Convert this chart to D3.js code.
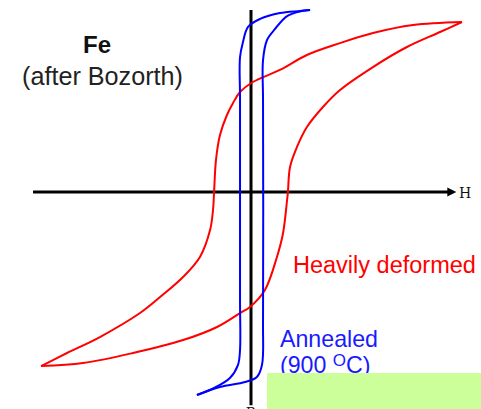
<!DOCTYPE html>
<html>
<head>
<meta charset="utf-8">
<script src="https://cdn.jsdelivr.net/npm/d3@7"></script>
<style>
  html, body { margin: 0; padding: 0; background: #fff; }
  svg { display: block; }
</style>
</head>
<body>
<svg id="chart" width="481" height="409"></svg>
<script>
// Heavily deformed Fe: descending branch (H, B)
const deformedDescH = [10, 7.68, 5.78, 4.22, 2.65, 1.37, 0.09, -0.52, -0.85, -1.14, -1.47, -1.66, -1.75, -1.80, -1.94, -2.42, -3.22, -4.31, -5.26, -7.16, -8.72, -9.95];
const deformedDescB = [10, 9.82, 9.35, 8.76, 8.06, 7.18, 6.47, 5.88, 5.24, 4.53, 3.35, 1.88, 0, -1.06, -2.24, -3.82, -5.0, -6.18, -7.12, -8.53, -9.47, -10.24];
// Heavily deformed Fe: ascending branch
const deformedAscH = [-9.95, -7.96, -5.59, -3.22, -1.61, -0.52, -0.05, 0.66, 1.23, 1.52, 1.71, 1.75, 1.85, 2.18, 2.65, 3.41, 4.22, 5.78, 7.39, 8.96, 10];
const deformedAscB = [-10.24, -10.06, -9.47, -8.71, -7.94, -7.12, -6.76, -5.76, -3.82, -2.41, -0.47, 0, 1.47, 2.65, 3.82, 5.0, 6.0, 7.35, 8.53, 9.41, 10];
// Annealed Fe (900 °C): descending branch
const annealedDescH = [2.80, 2.32, 1.37, 0.43, -0.14, -0.38, -0.52, -0.52, -0.52, -0.52, -0.62, -1.0, -1.75, -2.56];
const annealedDescB = [10.71, 10.65, 10.53, 10.18, 9.71, 8.82, 7.94, 5.41, -6.35, -9.29, -10.18, -10.94, -11.53, -11.94];
// Annealed Fe (900 °C): ascending branch
const annealedAscH = [-2.56, -1.47, -0.28, 0.28, 0.52, 0.57, 0.57, 0.57, 0.76, 1.14, 1.71, 2.42, 2.80];
const annealedAscB = [-11.94, -11.47, -11.18, -10.88, -10.18, -7.53, 5.41, 7.76, 8.94, 9.59, 10.35, 10.65, 10.71];

const titleText = "Fe";
const subtitleText = "(after Bozorth)";
const xAxisLabel = "H";
const yAxisLabel = "B";
const deformedLabel = "Heavily deformed";
const annealedLabel1 = "Annealed";

const svg = d3.select("#chart");

const x = d3.scaleLinear().domain([-10, 10]).range([40, 462]);
const y = d3.scaleLinear().domain([-10, 10]).range([362, 22]);

const zip = (hs, bs) => hs.map((h, i) => [h, bs[i]]);

const line = d3.line()
  .x(d => x(d[0]))
  .y(d => y(d[1]))
  .curve(d3.curveCatmullRom.alpha(0.5));

// Axes
const xAxisStart = -10.33, xAxisEnd = 9.4;
svg.append("line")
  .attr("x1", x(xAxisStart)).attr("x2", x(xAxisEnd))
  .attr("y1", y(0)).attr("y2", y(0))
  .attr("stroke", "#000").attr("stroke-width", 3);
svg.append("path")
  .attr("d", `M${x(xAxisEnd) - 2},${y(0) - 4.5} L${x(xAxisEnd) + 7},${y(0)} L${x(xAxisEnd) - 2},${y(0) + 4.5} Z`)
  .attr("fill", "#000");
svg.append("line")
  .attr("x1", x(0)).attr("x2", x(0))
  .attr("y1", y(10.7)).attr("y2", y(-12.55))
  .attr("stroke", "#000").attr("stroke-width", 3);

svg.append("text")
  .attr("x", x(9.9) - 1).attr("y", y(0) + 6)
  .attr("font-family", "'DejaVu Serif', 'Liberation Serif', serif")
  .attr("font-size", 14)
  .attr("fill", "#111")
  .text(xAxisLabel);

svg.append("text")
  .attr("x", x(0)).attr("y", 418)
  .attr("text-anchor", "middle")
  .attr("font-family", "'DejaVu Serif', 'Liberation Serif', serif")
  .attr("font-size", 14)
  .attr("fill", "#111")
  .text(yAxisLabel);

// Curves
const red = "#ff0000", blue = "#0000ff";
[[deformedDescH, deformedDescB], [deformedAscH, deformedAscB]].forEach(([h, b]) => {
  svg.append("path")
    .attr("d", line(zip(h, b)))
    .attr("fill", "none").attr("stroke", red).attr("stroke-width", 2);
});
[[annealedDescH, annealedDescB], [annealedAscH, annealedAscB]].forEach(([h, b]) => {
  svg.append("path")
    .attr("d", line(zip(h, b)))
    .attr("fill", "none").attr("stroke", blue).attr("stroke-width", 2);
});

// Titles
svg.append("text")
  .attr("x", 83).attr("y", 53)
  .attr("font-family", "'Liberation Sans', Arial, sans-serif")
  .attr("font-weight", "bold")
  .attr("font-size", 24)
  .attr("fill", "#111")
  .text(titleText);
svg.append("text")
  .attr("x", 22).attr("y", 85)
  .attr("font-family", "'Liberation Sans', Arial, sans-serif")
  .attr("font-size", 25.2)
  .attr("fill", "#222")
  .text(subtitleText);

// Series labels
svg.append("text")
  .attr("x", 293).attr("y", 273)
  .attr("font-family", "'Liberation Sans', Arial, sans-serif")
  .attr("font-size", 23.5)
  .attr("fill", red)
  .text(deformedLabel);

svg.append("text")
  .attr("x", 280).attr("y", 347)
  .attr("font-family", "'Liberation Sans', Arial, sans-serif")
  .attr("font-size", 23.2)
  .attr("fill", "#1a1aff")
  .text(annealedLabel1);

const t2 = svg.append("text")
  .attr("x", 280).attr("y", 373)
  .attr("font-family", "'Liberation Sans', Arial, sans-serif")
  .attr("font-size", 23.2)
  .attr("fill", "#1a1aff");
t2.append("tspan").text("(900 ");
t2.append("tspan").attr("dy", -7).attr("font-size", 17).text("O");
t2.append("tspan").attr("dy", 7).text("C)");

// Green box
svg.append("rect")
  .attr("x", 267).attr("y", 373)
  .attr("width", 214).attr("height", 36)
  .attr("fill", "#ccff99");
</script>
</body>
</html>
